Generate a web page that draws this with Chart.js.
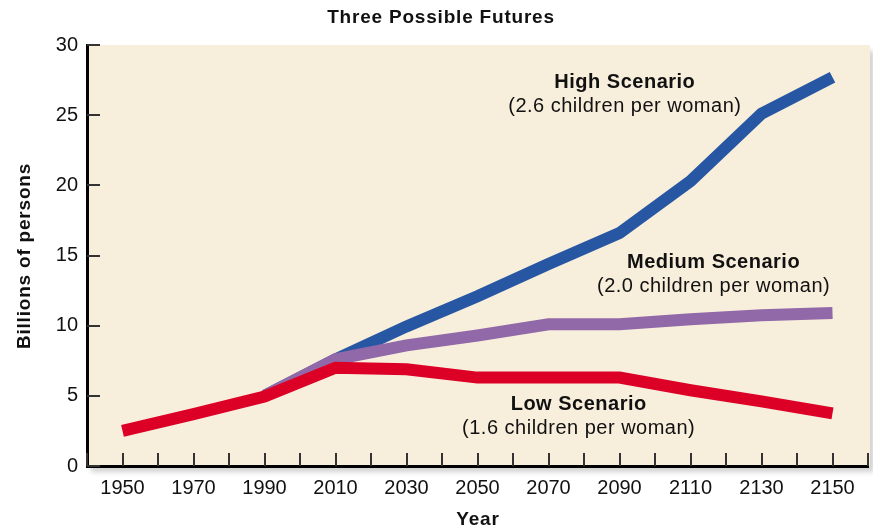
<!DOCTYPE html>
<html>
<head>
<meta charset="utf-8">
<script src="https://cdn.jsdelivr.net/npm/chart.js@4.4.1/dist/chart.umd.min.js"></script>
<style>
  html, body { margin: 0; padding: 0; background: #fff; }
</style>
</head>
<body>
<canvas id="futuresChart" width="873" height="531"></canvas>
<script>
// Data (billions of persons)
const years = [1950, 1970, 1990, 2010, 2030, 2050, 2070, 2090, 2110, 2130, 2150];
const lowValues = [2.5, 3.7, 4.95, 7.0, 6.9, 6.3, 6.3, 6.3, 5.4, 4.6, 3.75];
const mediumValues = [null, null, 5.0, 7.6, 8.6, 9.3, 10.1, 10.1, 10.45, 10.75, 10.9];
const highValues = [null, null, 5.0, 7.6, 9.95, 12.1, 14.4, 16.6, 20.3, 25.1, 27.7];
const xTickLabels = [1950, 1970, 1990, 2010, 2030, 2050, 2070, 2090, 2110, 2130, 2150];
const yTickLabels = [0, 5, 10, 15, 20, 25, 30];

const textColor = '#111';
const plotBg = '#F7EEDC';

// Scenario notes, placed in data units
const notes = [
  { x: 2091.5, y: 27.3, title: 'High Scenario', sub: '(2.6 children per woman)' },
  { x: 2116.5, y: 14.47, title: 'Medium Scenario', sub: '(2.0 children per woman)' },
  { x: 2078.5, y: 4.35, title: 'Low Scenario', sub: '(1.6 children per woman)' }
];

const toPoints = (vals) => years
  .map((yr, i) => ({ x: yr, y: vals[i] }))
  .filter(p => p.y !== null);

// Plot background with soft shadow
const backgroundPlugin = {
  id: 'plotBackground',
  beforeDraw(chart) {
    const { ctx, chartArea: a } = chart;
    ctx.save();
    ctx.shadowColor = 'rgba(0,0,0,0.18)';
    ctx.shadowBlur = 5;
    ctx.shadowOffsetX = 4;
    ctx.shadowOffsetY = 6;
    ctx.fillStyle = plotBg;
    ctx.fillRect(a.left, a.top, a.right - a.left + 2, a.bottom - a.top);
    ctx.restore();
  }
};

// Short tick marks drawn inward from the axes
const innerTicksPlugin = {
  id: 'innerTicks',
  beforeDatasetsDraw(chart) {
    const { ctx, chartArea: a, scales } = chart;
    ctx.save();
    ctx.strokeStyle = '#333';
    ctx.lineWidth = 2;
    ctx.beginPath();
    scales.x.ticks.forEach(t => {
      const px = Math.round(scales.x.getPixelForValue(t.value));
      ctx.moveTo(px, a.bottom);
      ctx.lineTo(px, a.bottom - 13);
    });
    scales.y.ticks.forEach(t => {
      const py = Math.round(scales.y.getPixelForValue(t.value));
      ctx.moveTo(a.left, py);
      ctx.lineTo(a.left + 13, py);
    });
    ctx.stroke();
    ctx.restore();
  }
};

// Title, axis titles and scenario notes
const textPlugin = {
  id: 'chartTexts',
  afterDraw(chart) {
    const { ctx, scales } = chart;
    ctx.save();
    ctx.fillStyle = textColor;
    ctx.textAlign = 'center';
    ctx.textBaseline = 'middle';
    if ('letterSpacing' in ctx) ctx.letterSpacing = '0.8px';
    ctx.font = 'bold 19px "Liberation Sans", Arial, sans-serif';
    ctx.fillText('Three Possible Futures', 441, 18);
    ctx.fillText('Year', 478, 520);

    ctx.save();
    ctx.translate(25, 256);
    ctx.rotate(-Math.PI / 2);
    ctx.fillText('Billions of persons', 0, 0);
    ctx.restore();

    if ('letterSpacing' in ctx) ctx.letterSpacing = '0.5px';
    notes.forEach(n => {
      const px = scales.x.getPixelForValue(n.x);
      const py = scales.y.getPixelForValue(n.y);
      ctx.font = 'bold 20px "Liberation Sans", Arial, sans-serif';
      ctx.fillText(n.title, px, py);
      ctx.font = '20px "Liberation Sans", Arial, sans-serif';
      ctx.fillText(n.sub, px, py + 24);
    });
    ctx.restore();
  }
};

const futuresChart = new Chart(
  document.getElementById('futuresChart'),
  {
    type: 'line',
    data: {
      datasets: [
        {
          label: 'Low Scenario',
          data: toPoints(lowValues),
          borderColor: '#DC0027',
          order: 0
        },
        {
          label: 'Medium Scenario',
          data: toPoints(mediumValues),
          borderColor: '#9168A8',
          order: 1
        },
        {
          label: 'High Scenario',
          data: toPoints(highValues),
          borderColor: '#2757A3',
          order: 2
        }
      ]
    },
    options: {
      responsive: false,
      animation: false,
      layout: {
        padding: { top: 45, right: 5, left: 0, bottom: 0 }
      },
      elements: {
        line: {
          borderWidth: 12,
          tension: 0,
          borderCapStyle: 'butt',
          borderJoinStyle: 'miter',
          fill: false
        },
        point: { radius: 0, hoverRadius: 0 }
      },
      datasets: { line: { clip: false } },
      plugins: {
        legend: { display: false },
        tooltip: { enabled: false }
      },
      scales: {
        x: {
          type: 'linear',
          min: 1940,
          max: 2160,
          afterFit: (scale) => {
            scale.height = 65;
            scale.paddingLeft = 0;
            scale.paddingRight = 0;
          },
          border: { display: true, color: '#000', width: 3 },
          grid: { display: false, drawTicks: false },
          ticks: {
            stepSize: 10,
            autoSkip: false,
            maxRotation: 0,
            padding: 10,
            color: textColor,
            font: { family: '"Liberation Sans", Arial, sans-serif', size: 20 },
            callback: (v) => xTickLabels.includes(v) ? String(v) : ''
          }
        },
        y: {
          min: 0,
          max: 30,
          afterFit: (scale) => { scale.width = 87; },
          border: { display: true, color: '#000', width: 3 },
          grid: { display: false, drawTicks: false },
          ticks: {
            stepSize: 5,
            padding: 9,
            color: textColor,
            font: { family: '"Liberation Sans", Arial, sans-serif', size: 20 },
            callback: (v) => yTickLabels.includes(v) ? String(v) : ''
          }
        }
      }
    },
    plugins: [backgroundPlugin, innerTicksPlugin, textPlugin]
  }
);
</script>
</body>
</html>
